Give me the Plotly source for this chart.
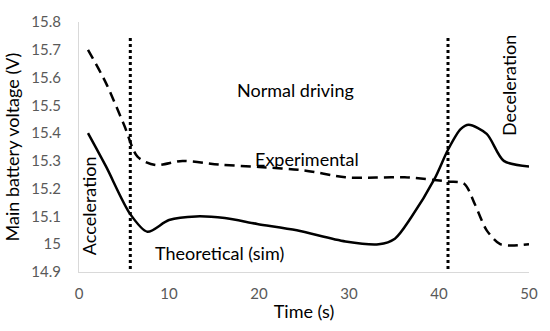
import plotly.graph_objects as go

# Data
exp_x = [1, 3, 5, 6.5, 8.5, 11.5, 15.5, 20, 25, 29.6, 33, 36.2, 41, 42.8, 44, 45.3, 46.8, 48, 50]
exp_y = [15.70, 15.58, 15.43, 15.315, 15.285, 15.30, 15.287, 15.278, 15.266, 15.241, 15.24, 15.241, 15.226, 15.218, 15.143, 15.05, 15.00, 14.995, 15.00]

th_x = [1, 3, 5.7, 7.6, 10, 13, 16.2, 19.8, 24.2, 29.6, 33.3, 35.1, 36.9, 39.5, 41, 42.4, 43.3, 45.3, 47.2, 50]
th_y = [15.40, 15.28, 15.108, 15.045, 15.087, 15.10, 15.094, 15.073, 15.05, 15.01, 15.0, 15.02, 15.096, 15.235, 15.34, 15.414, 15.43, 15.397, 15.30, 15.28]

phase_x = [5.7, 41]
phase_top = 15.745
phase_bottom = 14.889

fig = go.Figure()
fig.add_trace(go.Scatter(x=exp_x, y=exp_y, mode="lines", line=dict(color="black", width=2.5, dash="10px,6px", shape="spline", smoothing=0.8), showlegend=False))
fig.add_trace(go.Scatter(x=th_x, y=th_y, mode="lines", line=dict(color="black", width=2.5, shape="spline", smoothing=0.8), showlegend=False))
for px in phase_x:
    fig.add_trace(go.Scatter(x=[px, px], y=[phase_bottom, phase_top], mode="lines", line=dict(color="black", width=3, dash="3px,3px"), showlegend=False, cliponaxis=False))

font = "Lato, Open Sans, sans-serif"
ann = [
    dict(x=24, y=15.557, text="Normal driving", textangle=0),
    dict(x=25.3, y=15.307, text="Experimental", textangle=0),
    dict(x=15.6, y=14.968, text="Theoretical (sim)", textangle=0),
    dict(x=1.2, y=15.14, text="Acceleration", textangle=-90),
    dict(x=47.8, y=15.57, text="Deceleration", textangle=-90),
]
for a in ann:
    fig.add_annotation(x=a["x"], y=a["y"], text=a["text"], textangle=a["textangle"], showarrow=False,
                       font=dict(family=font, size=18, color="black"))

fig.update_layout(
    width=550, height=331,
    margin=dict(l=79, r=13, t=17, b=54),
    plot_bgcolor="white", paper_bgcolor="white",
    font=dict(family=font),
)
fig.update_xaxes(range=[0, 50], dtick=10, showgrid=False, zeroline=False, showline=True, linecolor="#d9d9d9", linewidth=1,
                 ticks="", ticklabelstandoff=8, tickfont=dict(size=15, color="#595959"),
                 title=dict(text="Time (s)", font=dict(size=18, color="black"), standoff=4))
fig.update_yaxes(range=[14.9, 15.8], dtick=0.1, showgrid=False, zeroline=False, showline=True, linecolor="#d9d9d9", linewidth=1,
                 ticks="", ticklabelstandoff=14, tickfont=dict(size=15, color="#595959"),
                 title=dict(text="Main battery voltage (V)", font=dict(size=18, color="black"), standoff=7))

# remove the default 8px page margin so the figure sits at the window origin
fig.write_html("out.html", config={"displayModeBar": False},
               post_script="document.body.style.margin='0';")
